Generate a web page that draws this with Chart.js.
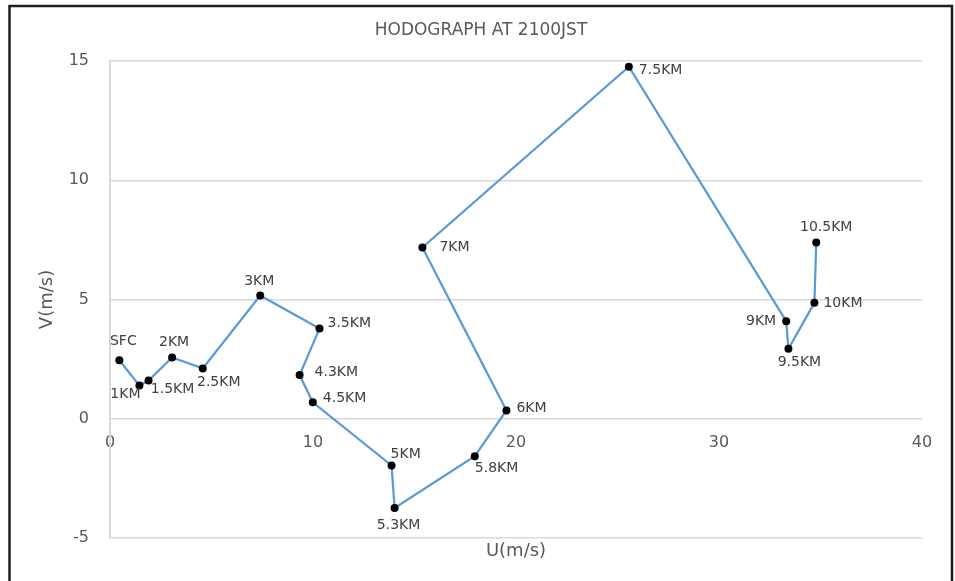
<!DOCTYPE html>
<html>
<head>
<meta charset="utf-8">
<title>Hodograph at 2100JST</title>
<script src="https://cdn.jsdelivr.net/npm/chart.js@4/dist/chart.umd.min.js"></script>
<style>
  html, body { margin: 0; padding: 0; background: #ffffff; }
  #wrap { width: 955px; height: 581px; }
</style>
</head>
<body>
<div id="wrap"><canvas id="hodo" width="955" height="581"></canvas></div>
<script>
// Wind profile: height labels and wind components (m/s)
const heights = ['SFC', '1KM', '1.5KM', '2KM', '2.5KM', '3KM', '3.5KM', '4.3KM', '4.5KM', '5KM',
                 '5.3KM', '5.8KM', '6KM', '7KM', '7.5KM', '9KM', '9.5KM', '10KM', '10.5KM'];
const uWind = [0.46, 1.45, 1.90, 3.06, 4.57, 7.40, 10.32, 9.34, 9.99, 13.87,
               14.02, 17.97, 19.53, 15.39, 25.56, 33.31, 33.42, 34.70, 34.79];
const vWind = [2.45, 1.39, 1.60, 2.57, 2.11, 5.17, 3.78, 1.83, 0.69, -1.96,
               -3.74, -1.57, 0.35, 7.18, 14.76, 4.09, 2.93, 4.86, 7.39];

// Axis ranges and tick spacing
const uTicks = [0, 10, 20, 30, 40];
const vTicks = [-5, 0, 5, 10, 15];

// Where each height label sits relative to its point: [align, dx, dy]
const labelPlacement = [
  ['center', 4, -19], ['center', -14, 9], ['center', 24, 9], ['center', 2, -15],
  ['center', 16, 14], ['center', -1, -14], ['left', 8, -5], ['left', 15, -3],
  ['left', 10, -4], ['left', -1, -11], ['center', 4, 17], ['left', 0, 12],
  ['left', 10, -2], ['left', 17, 0], ['left', 10, 4], ['right', -10, 0],
  ['center', 11, 13], ['left', 9, 1], ['center', 10, -15]
];

const FONT = "'DejaVu Sans', sans-serif";
const TEXT_GREY = '#595959';
const GRID_GREY = '#d9d9d9';

// White page and dark frame around the chart
const framePlugin = {
  id: 'frame',
  beforeDraw(chart) {
    const ctx = chart.ctx;
    ctx.save();
    ctx.fillStyle = '#ffffff';
    ctx.fillRect(0, 0, chart.width, chart.height);
    ctx.strokeStyle = '#1e1e1e';
    ctx.lineWidth = 2.5;
    ctx.beginPath();
    ctx.moveTo(9.5, chart.height + 5);
    ctx.lineTo(9.5, 6);
    ctx.lineTo(952, 6);
    ctx.lineTo(952, chart.height + 5);
    ctx.stroke();
    ctx.restore();
  }
};

// Height labels next to each point
const heightLabels = {
  id: 'heightLabels',
  afterDatasetsDraw(chart) {
    const ctx = chart.ctx;
    const meta = chart.getDatasetMeta(0);
    ctx.save();
    ctx.font = '14px ' + FONT;
    ctx.fillStyle = '#404040';
    ctx.textBaseline = 'middle';
    meta.data.forEach((pt, i) => {
      const [align, dx, dy] = labelPlacement[i];
      ctx.textAlign = align;
      ctx.fillText(heights[i], pt.x + dx, pt.y + dy);
    });
    ctx.restore();
  }
};

const points = uWind.map((u, i) => ({ x: u, y: vWind[i] }));

new Chart(document.getElementById('hodo'), {
  type: 'scatter',
  data: {
    datasets: [{
      label: 'Hodograph',
      data: points,
      showLine: true,
      borderColor: '#5b9bd5',
      borderWidth: 2.25,
      pointBackgroundColor: '#000000',
      pointBorderColor: '#000000',
      pointRadius: 4,
      pointBorderWidth: 0,
      tension: 0
    }]
  },
  options: {
    responsive: false,
    animation: false,
    layout: { padding: { left: 7, right: 0, top: 0, bottom: 0 } },
    plugins: {
      legend: { display: false },
      tooltip: { enabled: false },
      title: {
        display: true,
        text: 'HODOGRAPH AT 2100JST',
        color: TEXT_GREY,
        font: { family: FONT, size: 17, weight: 'normal' },
        padding: { top: 20, bottom: 20.6 }
      }
    },
    scales: {
      x: {
        type: 'linear',
        position: { y: 0 },
        min: uTicks[0],
        max: uTicks[uTicks.length - 1],
        afterBuildTicks(scale) { scale.ticks = uTicks.map(v => ({ value: v })); },
        grid: { display: false, drawTicks: false },
        border: { display: false },
        ticks: {
          color: TEXT_GREY,
          font: { family: FONT, size: 16 },
          padding: 14,
          maxRotation: 0
        }
      },
      xTitle: {
        type: 'linear',
        position: 'bottom',
        min: uTicks[0],
        max: uTicks[uTicks.length - 1],
        grid: { display: false, drawTicks: false },
        border: { display: false },
        ticks: { display: false },
        title: {
          display: true,
          text: 'U(m/s)',
          color: TEXT_GREY,
          font: { family: FONT, size: 18 },
          padding: { top: 0, bottom: 19 }
        },
        afterFit(scale) { scale.height = 43; }
      },
      y: {
        type: 'linear',
        position: 'left',
        min: vTicks[0],
        max: vTicks[vTicks.length - 1],
        afterBuildTicks(scale) { scale.ticks = vTicks.map(v => ({ value: v })); },
        grid: { color: GRID_GREY, lineWidth: 1.5, drawTicks: false },
        border: { display: true, color: GRID_GREY, width: 2 },
        ticks: {
          color: TEXT_GREY,
          font: { family: FONT, size: 16 },
          padding: 21
        },
        title: {
          display: true,
          text: 'V(m/s)',
          color: TEXT_GREY,
          font: { family: FONT, size: 18 },
          padding: { top: 30, bottom: 0 }
        },
        afterFit(scale) { scale.width = 103; }
      },
      yRight: {
        type: 'linear',
        position: 'right',
        min: vTicks[0],
        max: vTicks[vTicks.length - 1],
        grid: { display: false, drawTicks: false },
        border: { display: false },
        ticks: { display: false },
        afterFit(scale) { scale.width = 33; }
      }
    }
  },
  plugins: [framePlugin, heightLabels]
});
</script>
</body>
</html>
